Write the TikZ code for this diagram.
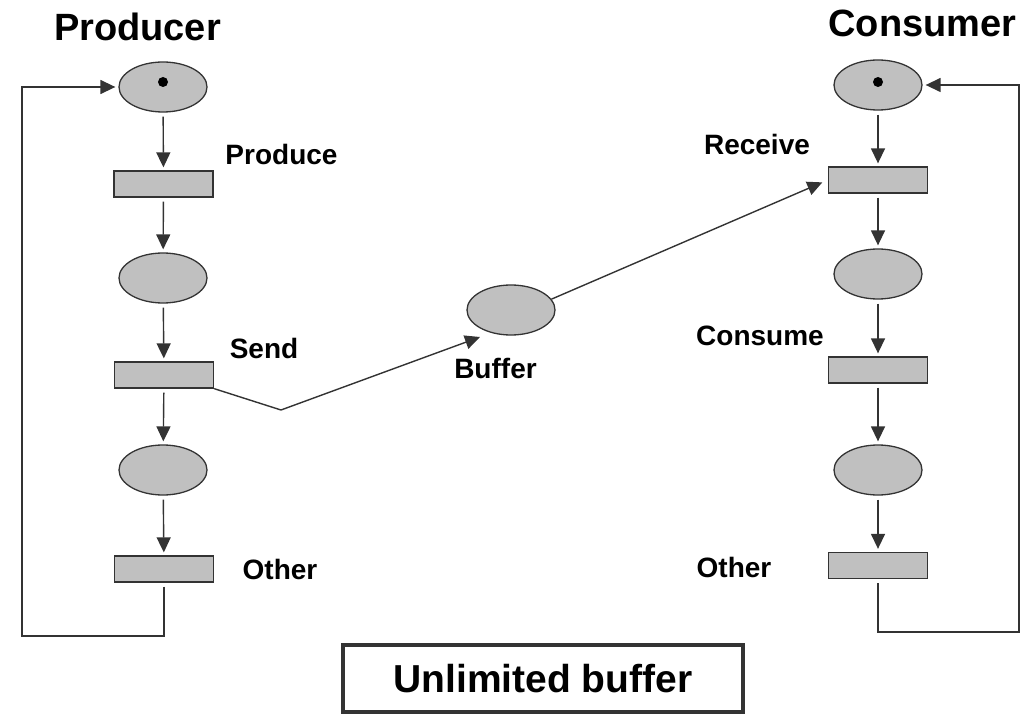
\documentclass[tikz,border=0pt]{standalone}
\usepackage{fontspec}
\setmainfont{Liberation Sans}
\usetikzlibrary{shapes.geometric,arrows.meta,calc}
\definecolor{placefill}{HTML}{C0C0C0}
\definecolor{ink}{HTML}{333333}
\begin{document}
\begin{tikzpicture}[x=1pt,y=-1pt,
  place/.style={ellipse,draw=ink,line width=1.3pt,fill=placefill,
    minimum width=88pt,minimum height=50pt,inner sep=0pt},
  trans/.style={rectangle,draw=ink,line width=1.3pt,fill=placefill,
    minimum width=99pt,minimum height=26pt,inner sep=0pt},
  arc/.style={draw=ink,line width=1.4pt,-{Triangle[length=15pt,width=14pt]},
    shorten <=4pt,shorten >=3pt},
  lbl/.style={anchor=base,inner sep=0pt,font=\fontsize{28}{30}\selectfont\bfseries},
  title/.style={anchor=base,inner sep=0pt,font=\fontsize{38}{40}\selectfont\bfseries},
  token/.style={circle,fill=black,minimum size=10pt,inner sep=0pt}
]
\useasboundingbox (0,0) rectangle (1026,714);

% titles
\node[title] (ptitle) at (137.5,41) {Producer};
\node[title] (ctitle) at (922.5,37) {Consumer};

% producer net
\node[place] (P1) at (163,87) {};
\node[token] (tok1) at (163,82) {};
\node[trans] (T1) at (163.5,184) {};
\node[place] (P2) at (163,278) {};
\node[trans] (T2) at (164,375) {};
\node[place] (P3) at (163,470) {};
\node[trans] (T3) at (164,569) {};

% consumer net
\node[place] (C1) at (878,85) {};
\node[token] (tok2) at (878,82) {};
\node[trans] (T4) at (878,180) {};
\node[place] (C2) at (878,274) {};
\node[trans] (T5) at (878,370) {};
\node[place] (C3) at (878,470) {};
\node[trans] (T6) at (878,565.5) {};

% buffer place
\node[place] (Buf) at (511,310) {};

% labels
\node[lbl] (lprod) at (281.5,165) {Produce};
\node[lbl] (lsend) at (264,358) {Send};
\node[lbl] (lothp) at (280,579) {Other};
\node[lbl] (lbuf) at (495.5,378) {Buffer};
\node[lbl] (lrecv) at (757,155) {Receive};
\node[lbl] (lcons) at (760,345) {Consume};
\node[lbl] (lothc) at (734,577) {Other};

% flow arcs
\draw[arc] (P1) -- (T1);
\draw[arc] (T1) -- (P2);
\draw[arc] (P2) -- (T2);
\draw[arc] (T2) -- (P3);
\draw[arc] (P3) -- (T3);

\draw[arc] (C1) -- (T4);
\draw[arc] (T4) -- (C2);
\draw[arc] (C2) -- (T5);
\draw[arc] (T5) -- (C3);
\draw[arc] (C3) -- (T6);

% loops back to the initial places
\coordinate (lb) at (22,636);
\coordinate (rb) at (1019,632);
\draw[arc] (T3.south) |- (lb) |- (P1.west);
\draw[arc] (T6.south) |- (rb) |- (C1.east);

% send -> buffer -> receive
\coordinate (sb) at (281,410);
\coordinate (bt) at (480,337);
\draw[arc,shorten <=0pt,shorten >=0pt] (T2.south east) -- (sb) -- (bt);
\draw[arc,shorten <=0pt,shorten >=6pt] (Buf.15) -- (T4.west);

% caption box
\node[draw=ink,line width=4pt,minimum width=400pt,minimum height=67pt,inner sep=0pt,
  font=\fontsize{39}{41}\selectfont\bfseries] (cap) at (543,678.5) {Unlimited buffer};
\end{tikzpicture}
\end{document}
